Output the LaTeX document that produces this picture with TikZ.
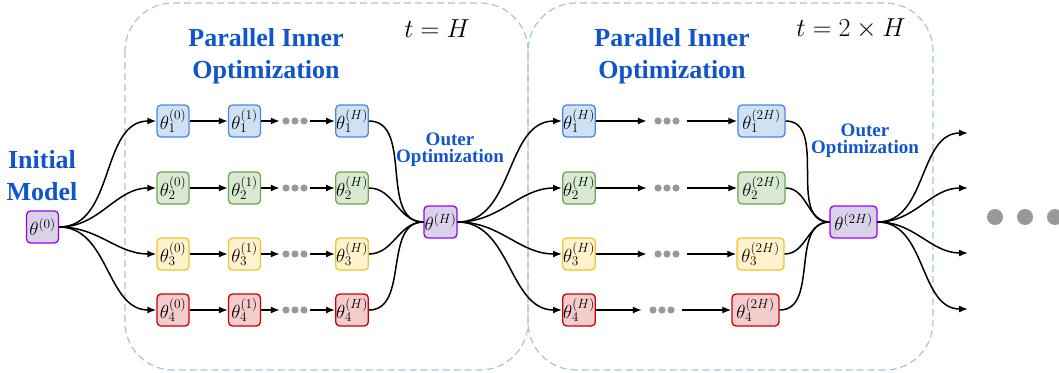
\RequirePackage{fix-cm}
\documentclass[tikz,border=0pt]{standalone}
\usepackage{fontspec}
\newfontfamily\titlefont{Liberation Serif}
\usetikzlibrary{arrows.meta}
\definecolor{tblue}{RGB}{17,85,204}
\definecolor{bdraw}{HTML}{4A86E8}\definecolor{bfill}{HTML}{CFE2F3}
\definecolor{gdraw}{HTML}{6AA84F}\definecolor{gfill}{HTML}{D9EAD3}
\definecolor{ydraw}{HTML}{F1C232}\definecolor{yfill}{HTML}{FFF2CC}
\definecolor{rdraw}{HTML}{CC0000}\definecolor{rfill}{HTML}{F4CCCC}
\definecolor{pdraw}{HTML}{9900FF}\definecolor{pfill}{HTML}{D9D2E9}
\definecolor{dashc}{HTML}{9FC5E8}
\definecolor{dotc}{HTML}{999999}
\begin{document}
\begin{tikzpicture}[x=1pt,y=-1pt,
  box/.style={rounded corners=4pt, line width=1.3pt, minimum width=32pt, minimum height=32pt, inner sep=0.5pt, font=\fontsize{19}{19}\selectfont},
  bl/.style={box, draw=bdraw, fill=bfill},
  gr/.style={box, draw=gdraw, fill=gfill},
  ye/.style={box, draw=ydraw, fill=yfill},
  re/.style={box, draw=rdraw, fill=rfill},
  pu/.style={box, draw=pdraw, fill=pfill},
  arr/.style={-{Latex[length=9pt,width=7pt]}, line width=1.5pt},
  con/.style={line width=1.5pt},
  dotsn/.style={minimum height=8pt, inner sep=0pt},
  dashbox/.style={draw=dashc, line width=1.2pt, dash pattern=on 7pt off 4pt, rounded corners=48pt},
  title/.style={text=tblue, align=center, font=\titlefont\bfseries\fontsize{26}{32}\selectfont},
  outer/.style={text=tblue, align=center, font=\titlefont\bfseries\fontsize{19}{17}\selectfont},
  mlbl/.style={font=\fontsize{26}{26}\selectfont, inner sep=0pt}
]
\clip (0,0) rectangle (1059,372);
% dashed blocks
\draw[dashbox] (125,3) rectangle (528,370);
\draw[dashbox] (528,3) rectangle (933,370);
% labels
\node[title] (p1) at (266,56) {Parallel Inner\\Optimization};
\node[title] (p2) at (672,56) {Parallel Inner\\Optimization};
\node[title] (init) at (42,176) {Initial\\Model};
\node[outer] (o1) at (450,150) {Outer\\Optimization};
\node[outer] (o2) at (865,141) {Outer\\Optimization};
\node[mlbl] (tH) at (437,29) {$t=H$};
\node[mlbl] (t2H) at (851,29) {$t=2\times H$};
% central nodes
\node[pu] (a0) at (42.5,227) {$\theta^{(0)}$};
\node[pu, minimum width=33pt] (aH) at (440.5,222) {$\theta^{(H)}$};
\node[pu, minimum width=47pt] (a2H) at (853.5,222) {$\theta^{(2H)}$};
% rows
\foreach \r/\s/\y/\dx/\lx in {1/bl/121/667/761.5, 2/gr/188/667/761.5, 3/ye/254/667/760.5, 4/re/310/662/755.5} {
  \node[\s] (u\r) at (173,\y) {$\theta^{(0)}_{\r}$};
  \node[\s] (v\r) at (244.5,\y) {$\theta^{(1)}_{\r}$};
  \node[dotsn, minimum width=30pt] (d\r) at (295,\y) {};
  \node[\s] (w\r) at (352,\y) {$\theta^{(H)}_{\r}$};
  \node[\s] (x\r) at (579,\y) {$\theta^{(H)}_{\r}$};
  \node[dotsn, minimum width=40pt] (e\r) at (\dx,\y) {};
  \node[\s, minimum width=47pt] (z\r) at (\lx,\y) {$\theta^{(2H)}_{\r}$};
  \foreach \o in {-9,0,9} {
    \fill[dotc] ([xshift=\o pt]d\r.center) circle (3.6pt);
    \fill[dotc] ([xshift=\o pt]e\r.center) circle (3.6pt);
  }
  \draw[arr] (a0.east) to[out=0,in=180] (u\r.west);
  \draw[arr] (u\r) -- (v\r);
  \draw[arr] (v\r) -- (d\r);
  \draw[arr] (d\r) -- (w\r);
  \draw[con] (w\r.east) to[out=0,in=180] (aH.west);
  \draw[arr] (aH.east) to[out=0,in=180] (x\r.west);
  \draw[arr] (x\r) -- (e\r);
  \draw[arr] (e\r) -- (z\r);
  \draw[con] (z\r.east) to[out=0,in=180] (a2H.west);
}
% outgoing arrows
\coordinate (q1) at (968,133);
\coordinate (q2) at (968,188);
\coordinate (q3) at (968,253);
\coordinate (q4) at (968,309);
\foreach \r in {1,2,3,4} \draw[arr] (a2H.east) to[out=0,in=180] (q\r);
% trailing dots
\fill[dotc] (995,217) circle (8pt);
\fill[dotc] (1025,217) circle (8pt);
\fill[dotc] (1055,217) circle (8pt);
\end{tikzpicture}
\end{document}
